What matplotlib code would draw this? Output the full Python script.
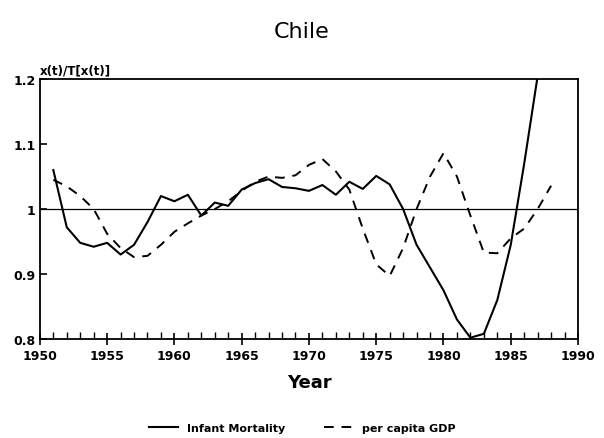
import matplotlib.pyplot as plt
from matplotlib.ticker import MultipleLocator, FixedLocator, FixedFormatter

years = list(range(1951, 1989))

# infant mortality ratio, 1951-1987 (leaves the top of the frame in 1987)
infant = [1.060, 0.972, 0.948, 0.942, 0.948, 0.930, 0.945, 0.980, 1.020, 1.012,
          1.022, 0.990, 1.010, 1.005, 1.030, 1.040, 1.046, 1.034, 1.032, 1.028,
          1.037, 1.022, 1.042, 1.031, 1.051, 1.038, 1.000, 0.945, 0.910, 0.875,
          0.830, 0.802, 0.808, 0.860, 0.945, 1.070, 1.205]

# per capita GDP ratio, 1951-1988
gdp = [1.045, 1.035, 1.020, 1.000, 0.962, 0.940, 0.926, 0.928, 0.945, 0.965,
       0.978, 0.990, 1.000, 1.012, 1.028, 1.042, 1.050, 1.048, 1.052, 1.068,
       1.077, 1.058, 1.030, 0.970, 0.915, 0.897, 0.940, 1.000, 1.050, 1.086,
       1.050, 0.990, 0.933, 0.932, 0.955, 0.970, 1.000, 1.036]

yticks = [0.8, 0.9, 1.0, 1.1, 1.2]
ylabels = ['0.8', '0.9', '1', '1.1', '1.2']

fig = plt.figure(figsize=(6.04, 4.39), dpi=100)
ax = fig.add_axes([0.066, 0.2255, 0.891, 0.592])

ax.plot(years[:len(infant)], infant, color='black', lw=1.5, label='Infant Mortality')
ax.plot(years, gdp, color='black', lw=1.4, ls=(0, (5, 4)), label='per capita GDP')
ax.axhline(1.0, color='black', lw=0.9)

ax.set_xlim(1950, 1990)
ax.set_ylim(0.8, 1.2)

for s in ax.spines.values():
    s.set_linewidth(1.3)

ax.xaxis.set_major_locator(MultipleLocator(5))
ax.xaxis.set_minor_locator(MultipleLocator(1))
ax.yaxis.set_major_locator(FixedLocator(yticks))
ax.yaxis.set_major_formatter(FixedFormatter(ylabels))
ax.tick_params(axis='x', which='major', direction='inout', length=8, width=1.2,
               labelsize=9, pad=3)
ax.tick_params(axis='x', which='minor', direction='in', length=5, width=1.0)
ax.tick_params(axis='y', which='major', direction='in', length=5, width=1.2,
               labelsize=9, pad=3)
for lab in ax.get_xticklabels() + ax.get_yticklabels():
    lab.set_fontweight('bold')

ax.set_xlabel('Year', fontsize=13, fontweight='bold', labelpad=8)
ax.text(0.0, 1.012, 'x(t)/T[x(t)]', transform=ax.transAxes, fontsize=8.5,
        fontweight='bold', ha='left', va='bottom')
fig.suptitle('Chile', fontsize=16, y=0.95)

fig.legend(loc='lower center', ncol=2, frameon=False,
           bbox_to_anchor=(0.5, -0.012), handlelength=2.6, columnspacing=3.5,
           prop={'weight': 'bold', 'size': 8})

fig.savefig('out.png', dpi=100)
